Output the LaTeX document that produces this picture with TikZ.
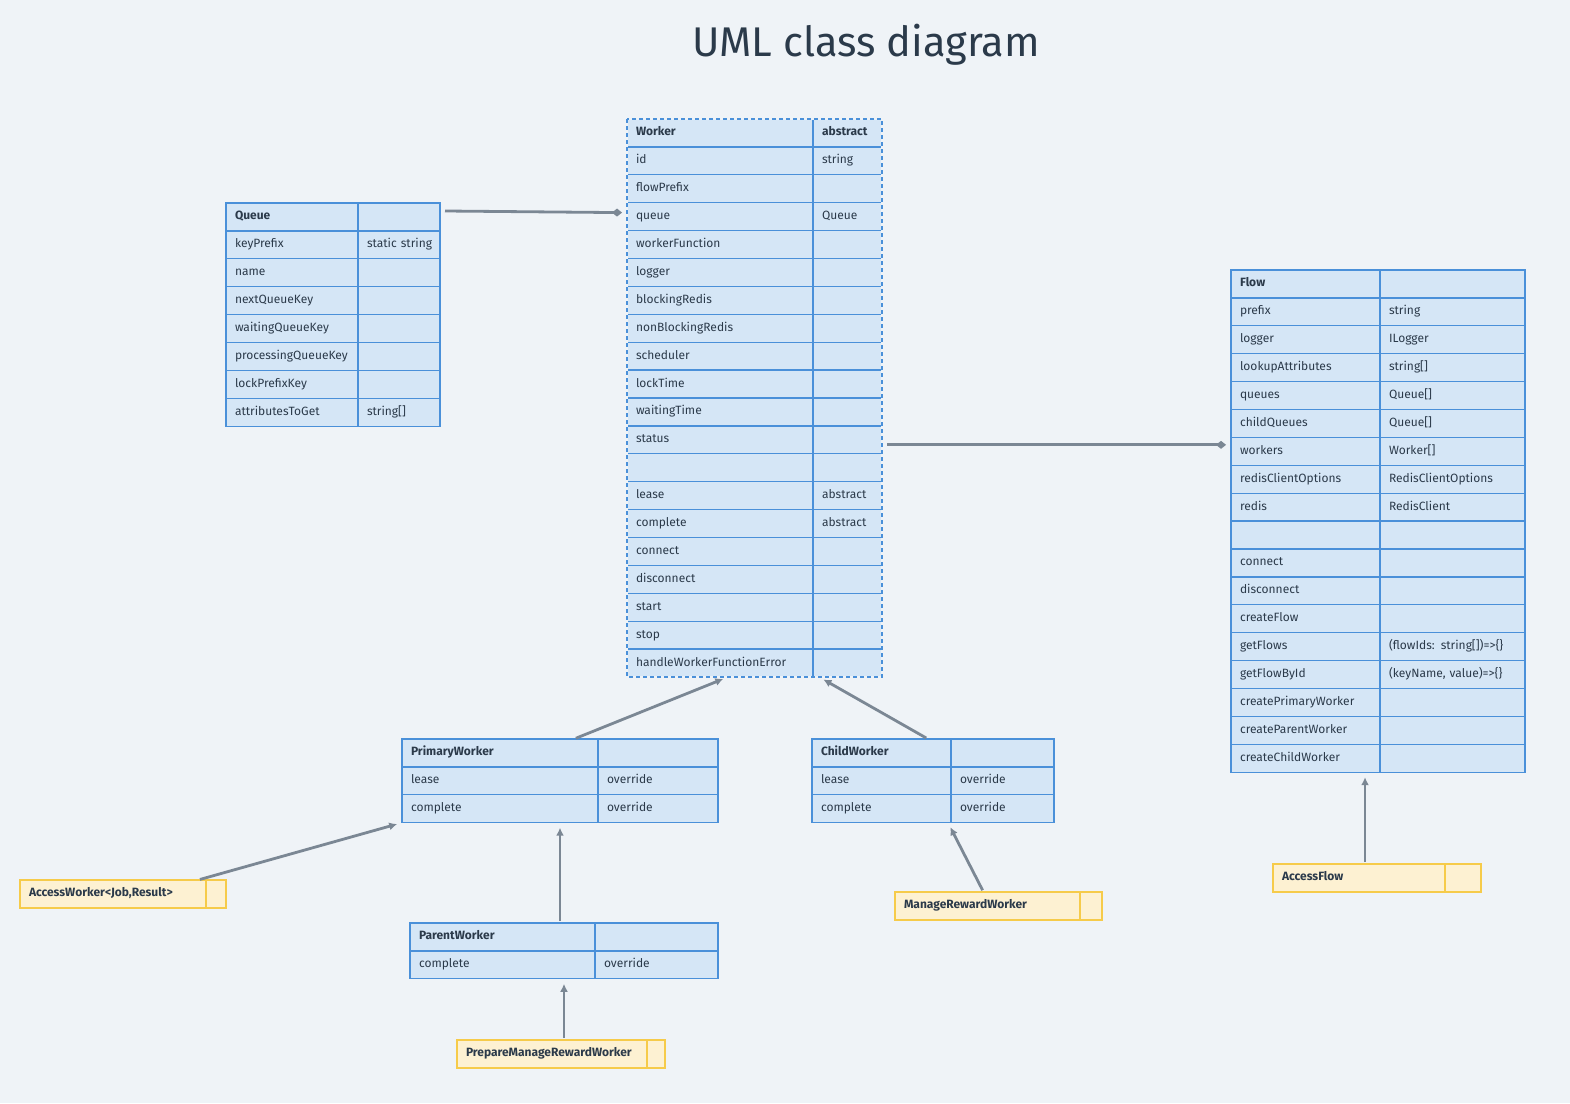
\documentclass[tikz,border=0pt]{standalone}
\usepackage{fontspec}
\setmainfont{Fira Sans}
\usetikzlibrary{positioning,arrows.meta,calc}
\definecolor{bgcol}{HTML}{EFF3F7}
\definecolor{cellfill}{HTML}{D5E6F6}
\definecolor{cellline}{HTML}{4A90D9}
\definecolor{notefill}{HTML}{FDF1D2}
\definecolor{noteline}{HTML}{F6CB4A}
\definecolor{ink}{HTML}{2B3A4A}
\definecolor{linkcol}{HTML}{7B8794}

\begin{document}
\begin{tikzpicture}
      [x=1pt,y=-1pt,font=\fontsize{12}{14}\selectfont,text=ink,
      cell/.style={draw=cellline,fill=cellfill,line width=1.3pt,text width=#1,
        minimum height=27.9pt,inner xsep=9pt,inner ysep=0pt,outer sep=0pt,
        align=left,text height=8.5pt,text depth=2.5pt},
      head/.style={font=\fontsize{12}{14}\selectfont\bfseries},
      note/.style={cell=#1,draw=noteline,fill=notefill,head},
      link/.style={draw=linkcol,line width=2.8pt,-{Latex[length=8pt,width=8pt]},
        shorten >=5pt,shorten <=2pt},
      owns/.style={draw=linkcol,line width=2.8pt,-{Diamond[length=10pt,width=8pt]},
        shorten >=5pt,shorten <=5pt}]
  \useasboundingbox[fill=bgcol] (0,0) rectangle (1570,1103);
  \node[font=\fontsize{41.5}{48}\selectfont] (title) at (866,45) {UML class diagram};

  % Queue
  \node[cell=114pt,head,anchor=north west] (queue-0-l) at (226,203) {Queue};
  \node[cell=64pt,right=0pt of queue-0-l] (queue-0-r) {};
  \foreach \l/\r [count=\i, remember=\i as \j (initially 0)] in
      {keyPrefix/static~string, name/{}, nextQueueKey/{}, waitingQueueKey/{},
       processingQueueKey/{}, lockPrefixKey/{}, attributesToGet/string[]}
  {
    \node[cell=114pt,below=0pt of queue-\j-l] (queue-\i-l) {\l};
    \node[cell=64pt,right=0pt of queue-\i-l] (queue-\i-r) {\r};
  }

  % Worker
  \node[cell=168pt,head,anchor=north west] (worker-0-l) at (627,119) {Worker};
  \node[cell=51pt,head,right=0pt of worker-0-l] (worker-0-r) {abstract};
  \foreach \l/\r [count=\i, remember=\i as \j (initially 0)] in
      {id/string, flowPrefix/{}, queue/Queue, workerFunction/{}, logger/{},
       blockingRedis/{}, nonBlockingRedis/{}, scheduler/{}, lockTime/{},
       waitingTime/{}, status/{}, {}/{}, lease/abstract, complete/abstract,
       connect/{}, disconnect/{}, start/{}, stop/{}, handleWorkerFunctionError/{}}
  {
    \node[cell=168pt,below=0pt of worker-\j-l] (worker-\i-l) {\l};
    \node[cell=51pt,right=0pt of worker-\i-l] (worker-\i-r) {\r};
  }
  \draw[bgcol,line width=1.8pt] (worker-0-l.north west) rectangle (worker-19-r.south east);
  \draw[cellline,line width=1.3pt,dash pattern=on 4pt off 3pt]
    (worker-0-l.north west) rectangle (worker-19-r.south east);

  % Flow
  \node[cell=131pt,head,anchor=north west] (flow-0-l) at (1231,270) {Flow};
  \node[cell=127pt,right=0pt of flow-0-l] (flow-0-r) {};
  \foreach \l/\r [count=\i, remember=\i as \j (initially 0)] in
      {prefix/string, logger/ILogger, lookupAttributes/string[], queues/Queue[],
       childQueues/Queue[], workers/Worker[], redisClientOptions/RedisClientOptions,
       redis/RedisClient, {}/{}, connect/{}, disconnect/{}, createFlow/{},
       getFlows/{(flowIds: string[])=>\{\}}, getFlowById/{(keyName, value)=>\{\}},
       createPrimaryWorker/{}, createParentWorker/{}, createChildWorker/{}}
  {
    \node[cell=131pt,below=0pt of flow-\j-l] (flow-\i-l) {\l};
    \node[cell=127pt,right=0pt of flow-\i-l] (flow-\i-r) {\r};
  }

  % PrimaryWorker
  \node[cell=178pt,head,anchor=north west] (primary-0-l) at (402,739) {PrimaryWorker};
  \node[cell=102pt,right=0pt of primary-0-l] (primary-0-r) {};
  \node[cell=178pt,below=0pt of primary-0-l] (primary-1-l) {lease};
  \node[cell=102pt,right=0pt of primary-1-l] (primary-1-r) {override};
  \node[cell=178pt,below=0pt of primary-1-l] (primary-2-l) {complete};
  \node[cell=102pt,right=0pt of primary-2-l] (primary-2-r) {override};

  % ChildWorker
  \node[cell=121pt,head,anchor=north west] (child-0-l) at (812,739) {ChildWorker};
  \node[cell=85pt,right=0pt of child-0-l] (child-0-r) {};
  \node[cell=121pt,below=0pt of child-0-l] (child-1-l) {lease};
  \node[cell=85pt,right=0pt of child-1-l] (child-1-r) {override};
  \node[cell=121pt,below=0pt of child-1-l] (child-2-l) {complete};
  \node[cell=85pt,right=0pt of child-2-l] (child-2-r) {override};

  % ParentWorker
  \node[cell=167pt,head,anchor=north west] (parent-0-l) at (410,923) {ParentWorker};
  \node[cell=105pt,right=0pt of parent-0-l] (parent-0-r) {};
  \node[cell=167pt,below=0pt of parent-0-l] (parent-1-l) {complete};
  \node[cell=105pt,right=0pt of parent-1-l] (parent-1-r) {override};

  % yellow ones
  \node[note=168pt,anchor=north west] (access-l) at (20,880) {AccessWorker<Job,Result>};
  \node[note=2pt,right=0pt of access-l] (access-r) {};
  \node[note=167pt,anchor=north west] (manage-l) at (895,892) {ManageRewardWorker};
  \node[note=4pt,right=0pt of manage-l] (manage-r) {};
  \node[note=154pt,anchor=north west] (accessflow-l) at (1273,864) {AccessFlow};
  \node[note=18pt,right=0pt of accessflow-l] (accessflow-r) {};
  \node[note=172pt,anchor=north west] (prepare-l) at (457,1040) {PrepareManageRewardWorker};
  \node[note=0pt,right=0pt of prepare-l] (prepare-r) {};

  % links
  \draw[owns] ($(queue-0-r.east)+(0,-6)$) -- ($(worker-3-l.west)+(0,-4)$);
  \coordinate (wf) at ($(worker-11-r.east)+(0,5)$);
  \draw[owns] (wf) -- (wf -| flow-6-l.west);
  \draw[link] ($(primary-0-l.north east)+(-24,0)$) -- ($(worker-19-l.south)+(8,0)$);
  \draw[link] ($(child-0-l.north east)+(-23,0)$) -- ($(worker-19-r.south west)+(6,0)$);
  \draw[link] ($(access-l.north east)+(-8,0)$) -- (primary-2-l.south west);
  \coordinate (pp) at ($(parent-0-l.north east)+(-35,0)$);
  \draw[link] (pp) -- (pp |- primary-2-l.south);
  \draw[link] ($(manage-l.north)+(-4,0)$) -- ($(child-2-l.south east)+(-3,0)$);
  \coordinate (af) at ($(accessflow-l.north)+(6,0)$);
  \draw[link] (af) -- (af |- flow-17-l.south);
  \coordinate (pm) at ($(prepare-l.north)+(12,0)$);
  \draw[link] (pm) -- (pm |- parent-1-l.south);
\end{tikzpicture}
\end{document}
